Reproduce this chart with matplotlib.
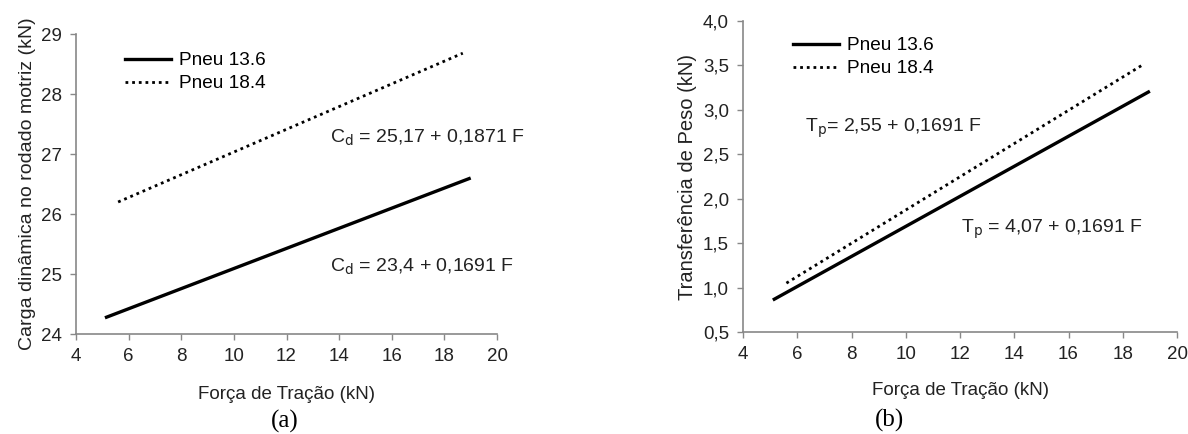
import matplotlib
matplotlib.use("Agg")
import matplotlib.pyplot as plt
from matplotlib.lines import Line2D

plt.rcParams['font.family'] = ['Liberation Sans', 'DejaVu Sans']

# ---- data ----
# panel (a): Carga dinamica
a_x_136 = [5.1, 19.0]
a_y_136 = [24.27, 26.60]
a_x_184 = [5.6, 18.7]
a_y_184 = [26.20, 28.68]
# panel (b): Transferencia de peso
b_x_136 = [5.1, 19.0]
b_y_136 = [0.86, 3.21]
b_x_184 = [5.6, 18.7]
b_y_184 = [1.05, 3.50]

series_labels = ["Pneu 13.6", "Pneu 18.4"]
xticks = [4, 6, 8, 10, 12, 14, 16, 18, 20]
a_yticks = [24, 25, 26, 27, 28, 29]
b_yticks = [0.5, 1.0, 1.5, 2.0, 2.5, 3.0, 3.5, 4.0]
b_yticklabels = ["0,5", "1,0", "1,5", "2,0", "2,5", "3,0", "3,5", "4,0"]

W, H = 1188, 434
fig = plt.figure(figsize=(W / 100, H / 100), dpi=100)

gray = "#888888"
TICKFS = 13.5
TXT = "#222222"


def style(ax):
    for s in ["top", "right"]:
        ax.spines[s].set_visible(False)
    for s in ["left", "bottom"]:
        ax.spines[s].set_color(gray)
        ax.spines[s].set_linewidth(1.2)
    ax.tick_params(direction="out", length=4, width=1.0, color=gray,
                   labelsize=TICKFS, labelcolor=TXT, pad=6)


def ax_rect(x0, x1, ytop, ybot):
    return [x0 / W, 1 - ybot / H, (x1 - x0) / W, (ybot - ytop) / H]


DOT = (0, (1.0, 1.4))
handles = [Line2D([], [], color="black", lw=2.4),
           Line2D([], [], color="black", lw=2.0, linestyle=DOT)]


def add_legend(x_px, top_px):
    fig.legend(handles, series_labels, loc="upper left",
               bbox_to_anchor=(x_px / W, 1 - top_px / H),
               bbox_transform=fig.transFigure, frameon=False, fontsize=13.7,
               handlelength=2.4, handletextpad=0.45, labelspacing=0.3,
               borderpad=0, borderaxespad=0)


# ---------- (a) ----------
axa = fig.add_axes(ax_rect(76, 497, 34, 334))
axa.plot(a_x_136, a_y_136, color="black", lw=2.4, solid_capstyle="butt")
axa.plot(a_x_184, a_y_184, color="black", lw=2.0, linestyle=DOT)
axa.set_xlim(4, 20)
axa.set_ylim(24, 29)
axa.set_xticks(xticks)
axa.set_yticks(a_yticks)
style(axa)
axa.set_xlabel("Força de Tração (kN)", fontsize=13.5, color=TXT, labelpad=15)
axa.set_ylabel("Carga dinâmica no rodado motriz (kN)", fontsize=14,
               color=TXT, labelpad=4)
add_legend(125, 52)
axa.text(13.65, 27.27, r"C$_{\mathrm{d}}$ = 25,17 + 0,1871 F", fontsize=14,
         ha="left", va="center", color=TXT)
axa.text(13.65, 25.12, r"C$_{\mathrm{d}}$ = 23,4 + 0,1691 F", fontsize=14,
         ha="left", va="center", color=TXT)
fig.text(285 / W, 1 - 421 / H, "(a)", fontsize=18, family="Liberation Serif",
         ha="center", va="center")

# ---------- (b) ----------
axb = fig.add_axes(ax_rect(743, 1177, 21, 332))
axb.plot(b_x_136, b_y_136, color="black", lw=2.4, solid_capstyle="butt")
axb.plot(b_x_184, b_y_184, color="black", lw=2.0, linestyle=DOT)
axb.set_xlim(4, 20)
axb.set_ylim(0.5, 4.0)
axb.set_xticks(xticks)
axb.set_yticks(b_yticks)
axb.set_yticklabels(b_yticklabels)
style(axb)
axb.set_xlabel("Força de Tração (kN)", fontsize=13.5, color=TXT, labelpad=14)
axb.set_ylabel("Transferência de Peso (kN)", fontsize=14.5, color=TXT,
               labelpad=4)
add_legend(793, 37)
axb.text(6.3, 2.79, r"T$_{\mathrm{p}}$= 2,55 + 0,1691 F", fontsize=14,
         ha="left", va="center", color=TXT)
axb.text(12.05, 1.66, r"T$_{\mathrm{p}}$ = 4,07 + 0,1691 F", fontsize=14,
         ha="left", va="center", color=TXT)
fig.text(890 / W, 1 - 420 / H, "(b)", fontsize=18, family="Liberation Serif",
         ha="center", va="center")

fig.savefig("out.png", dpi=100)
